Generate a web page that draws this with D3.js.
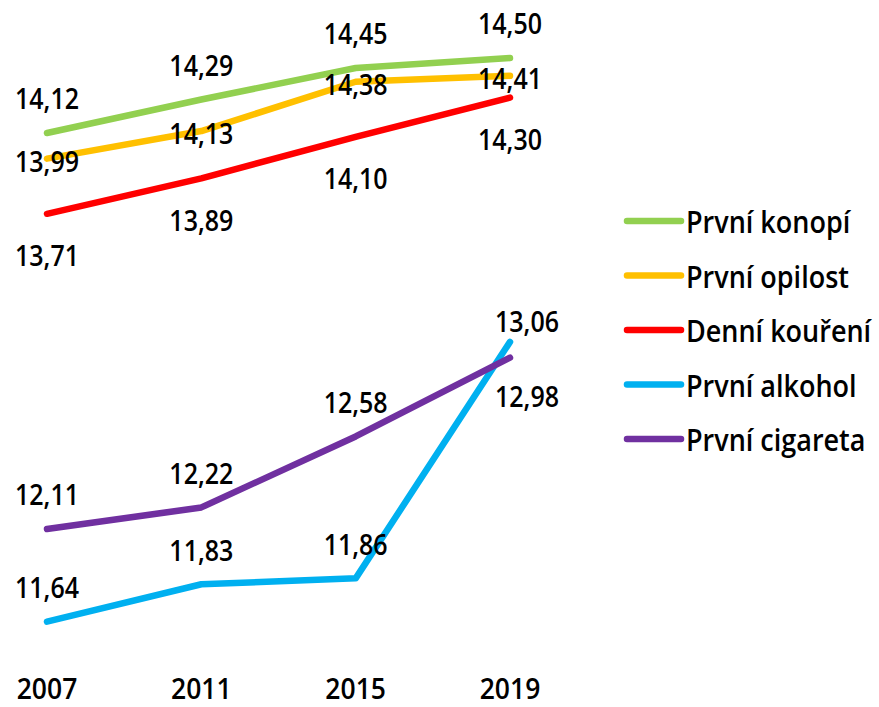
<!DOCTYPE html>
<html>
<head>
<meta charset="utf-8">
<script src="https://cdn.jsdelivr.net/npm/d3@7"></script>
<style>
  html, body { margin: 0; padding: 0; background: #fff; }
  svg text { font-family: "Open Sans", "Noto Sans", sans-serif; font-weight: 600; fill: #000; }
</style>
</head>
<body>
<svg id="chart" width="879" height="707"></svg>
<script>
// years on the x axis
const years = ['2007', '2011', '2015', '2019'];

// series, in legend order
const seriesNames = ['První konopí', 'První opilost', 'Denní kouření', 'První alkohol', 'První cigareta'];
const seriesColors = ['#92D050', '#FFC000', '#FF0000', '#00B0F0', '#7030A0'];

const konopi = [14.12, 14.29, 14.45, 14.50];
const opilost = [13.99, 14.13, 14.38, 14.41];
const koureni = [13.71, 13.89, 14.10, 14.30];
const alkohol = [11.64, 11.83, 11.86, 13.06];
const cigareta = [12.11, 12.22, 12.58, 12.98];

const seriesValues = [konopi, opilost, koureni, alkohol, cigareta];

// where each data label sits relative to its point
const labelPlaces = [
    ['above', 'above', 'above', 'above'],
    ['center', 'center', 'center', 'center'],
    ['below', 'below', 'below', 'below'],
    ['above', 'above', 'above', 'aboveRight'],
    ['above', 'above', 'above', 'belowRight']
];

const svg = d3.select('#chart');

let x = d3.scalePoint()
    .domain(years)
    .range([47, 510]);

let y = d3.scaleLinear()
    .domain([11.4, 14.8])
    .range([669, -1]);

let fmt = v => d3.format('.2f')(v).replace('.', ',');

// helper: text centred vertically at (px, py); the original text looks vertically stretched
function addText(parent, px, py, str, size, stretch, anchor) {
    parent.append('text')
        .attr('transform', 'translate(' + px + ',' + py + ') scale(1,' + stretch + ')')
        .attr('text-anchor', anchor || 'middle')
        .attr('dominant-baseline', 'central')
        .style('font-size', size + 'px')
        .text(str);
}

/* ------- lines ---------- */
let line = d3.line()
    .x((d, i) => x(years[i]))
    .y(d => y(d));

let linesG = svg.append('g').attr('class', 'lines');
seriesValues.forEach((vals, s) => {
    linesG.append('path')
        .datum(vals)
        .attr('d', line)
        .attr('fill', 'none')
        .attr('stroke', seriesColors[s])
        .attr('stroke-width', 6.5)
        .attr('stroke-linecap', 'round')
        .attr('stroke-linejoin', 'round');
});

/* ------- data labels ---------- */
let offsets = {
    above: [0, -35],
    center: [0, 2],
    below: [0, 41],
    aboveRight: [17, -21],
    belowRight: [17, 38]
};
let labelsG = svg.append('g').attr('class', 'labels');
seriesValues.forEach((vals, s) => {
    vals.forEach((v, i) => {
        let off = offsets[labelPlaces[s][i]];
        addText(labelsG, x(years[i]) + off[0], y(v) + off[1], fmt(v), 25, 1.18);
    });
});

/* ------- x axis labels ---------- */
let axisG = svg.append('g').attr('class', 'xaxis');
years.forEach(yr => addText(axisG, x(yr), 687, yr, 26.5, 1.1));

/* ------- legend ---------- */
let legendG = svg.append('g').attr('class', 'legend');
let legendY = d3.scalePoint().domain(seriesNames).range([221, 439]);
seriesNames.forEach((name, s) => {
    let ly = legendY(name);
    legendG.append('line')
        .attr('x1', 627).attr('x2', 681)
        .attr('y1', ly).attr('y2', ly)
        .attr('stroke', seriesColors[s])
        .attr('stroke-width', 6.5)
        .attr('stroke-linecap', 'round');
    addText(legendG, 686, ly, name, 27, 1.13, 'start');
});
</script>
</body>
</html>
